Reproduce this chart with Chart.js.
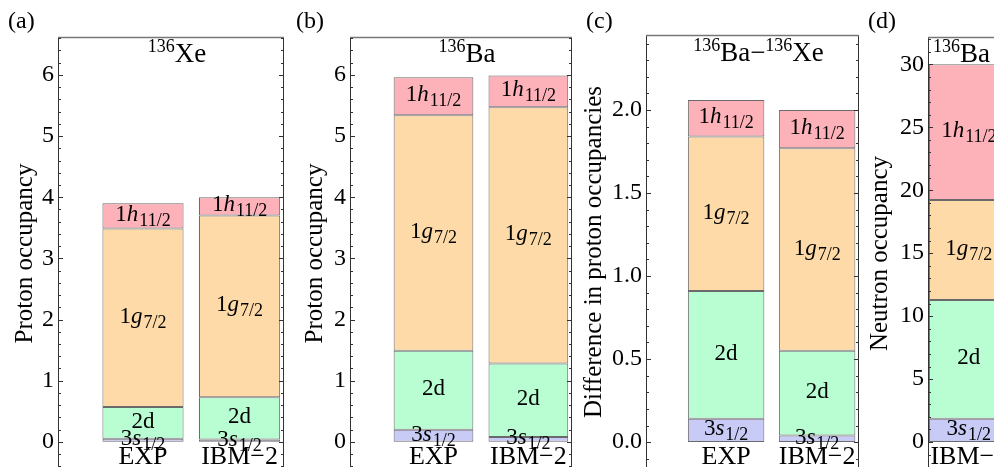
<!DOCTYPE html>
<html>
<head>
<meta charset="utf-8">
<script src="https://cdn.jsdelivr.net/npm/chart.js@4.4.0/dist/chart.umd.min.js"></script>
<style>
  html, body { margin: 0; padding: 0; overflow: hidden; background: #fff; }
  #wrap { position: relative; width: 994px; height: 467px; overflow: hidden; }
  canvas { position: absolute; top: 0; }
</style>
</head>
<body>
<div id="wrap">
  <canvas id="panelA" width="290" height="500" style="left:0px"></canvas>
  <canvas id="panelB" width="286" height="500" style="left:290px"></canvas>
  <canvas id="panelC" width="292" height="500" style="left:572px"></canvas>
  <canvas id="panelD" width="270" height="500" style="left:858px"></canvas>
</div>
<script>
const categories = ['EXP', 'IBM−2'];
const neutronCategories = ['IBM−2'];
const barSlots = [1, 2];

// orbitals, from the bottom of each stack to the top
const orbitalNums = ['3', '2', '1', '1'];
const orbitalLetters = ['s', 'd', 'g', 'h'];
const orbitalItalic = [true, false, true, true];
const orbitalSubs = ['1/2', '', '7/2', '11/2'];
const orbitalColors = ['#c7cbf5', '#b9fdd2', '#fedaa8', '#fdb1b9'];

// 136Xe proton occupancy
const xeExp = [0.05, 0.52, 2.92, 0.41];
const xeIbm = [0.04, 0.69, 2.97, 0.30];
// 136Ba proton occupancy
const baExp = [0.20, 1.29, 3.85, 0.62];
const baIbm = [0.08, 1.20, 4.19, 0.52];
// 136Ba - 136Xe
const diffExp = [0.14, 0.77, 0.93, 0.22];
const diffIbm = [0.04, 0.51, 1.22, 0.23];
// 136Ba neutron occupancy
const baNeutronIbm = [1.85, 9.43, 7.94, 10.78];

const protonTicks = [0, 1, 2, 3, 4, 5, 6];
const diffTicks = [0, 0.5, 1, 1.5, 2];
const neutronTicks = [0, 5, 10, 15, 20, 25, 30];

const titleXe = [['136', true], ['Xe', false]];
const titleBa = [['136', true], ['Ba', false]];
const titleDiff = [['136', true], ['Ba−', false], ['136', true], ['Xe', false]];

const SERIF = '"Liberation Serif", "Times New Roman", serif';

function drawOrbital(ctx, i, cx, by) {
  const main = '23px ' + SERIF;
  const letter = (orbitalItalic[i] ? 'italic ' : '') + '23px ' + SERIF;
  const sub = '18px ' + SERIF;
  ctx.font = main;
  const w1 = ctx.measureText(orbitalNums[i]).width;
  ctx.font = letter;
  const w2 = ctx.measureText(orbitalLetters[i]).width;
  ctx.font = sub;
  const w3 = orbitalSubs[i] ? ctx.measureText(orbitalSubs[i]).width + 1 : 0;
  let x = cx - (w1 + w2 + w3) / 2;
  ctx.textAlign = 'left';
  ctx.font = main;
  ctx.fillText(orbitalNums[i], x, by);
  x += w1;
  ctx.font = letter;
  ctx.fillText(orbitalLetters[i], x, by);
  x += w2 + 1;
  if (orbitalSubs[i]) {
    ctx.font = sub;
    ctx.fillText(orbitalSubs[i], x, by + 5);
  }
}

function drawTitle(ctx, parts, x, by, align) {
  const fontOf = p => (p[1] ? '18px ' : '27px ') + SERIF;
  const widths = parts.map(p => {
    ctx.font = fontOf(p);
    return ctx.measureText(p[0]).width;
  });
  const total = widths.reduce((a, b) => a + b, 0);
  let px = align === 'left' ? x : x - total / 2;
  ctx.textAlign = 'left';
  parts.forEach((p, k) => {
    ctx.font = fontOf(p);
    ctx.fillText(p[0], px, p[1] ? by - 10 : by);
    px += widths[k];
  });
}

const decoPlugin = {
  id: 'deco',
  afterDatasetsDraw(chart, args, opts) {
    const ctx = chart.ctx;
    const {left, right, top, bottom} = chart.chartArea;
    const xs = chart.scales.x, ys = chart.scales.y;
    ctx.save();
    ctx.fillStyle = '#000';
    ctx.textBaseline = 'alphabetic';

    // labels inside the stacked segments
    chart.data.datasets.forEach((ds, i) => {
      chart.getDatasetMeta(i).data.forEach(bar => {
        drawOrbital(ctx, i, bar.x, (bar.y + bar.base) / 2 + 5);
      });
    });

    // category names under the bars
    ctx.font = '26px ' + SERIF;
    ctx.textAlign = 'center';
    opts.cats.forEach((c, j) => {
      ctx.fillText(c, xs.getPixelForValue(barSlots[j]), ys.getPixelForValue(0) + 22);
    });

    // frame
    ctx.lineWidth = 1;
    ctx.strokeStyle = '#333';
    ctx.beginPath();
    ctx.moveTo(left + 0.5, top); ctx.lineTo(left + 0.5, bottom);
    ctx.moveTo(right - 0.5, top); ctx.lineTo(right - 0.5, bottom);
    ctx.moveTo(left, bottom - 0.5); ctx.lineTo(right, bottom - 0.5);
    ctx.stroke();
    ctx.strokeStyle = '#777';
    ctx.lineWidth = 1.5;
    ctx.beginPath();
    ctx.moveTo(left, top + 0.5); ctx.lineTo(right, top + 0.5);
    ctx.stroke();

    // inward ticks on both sides
    ctx.strokeStyle = '#333';
    ctx.lineWidth = 1;
    ctx.beginPath();
    const tick = (v, len) => {
      const y = Math.round(ys.getPixelForValue(v)) + 0.5;
      ctx.moveTo(left, y); ctx.lineTo(left + len, y);
      ctx.moveTo(right, y); ctx.lineTo(right - len, y);
    };
    const step = opts.minorStep;
    for (let k = Math.ceil(ys.min / step); k * step <= ys.max; k++) tick(k * step, 3);
    opts.yTicks.forEach(v => tick(v, 5));
    ctx.stroke();

    // panel title and letter
    if (opts.titleAlign === 'left') {
      drawTitle(ctx, opts.title, left + 5, top + 25, 'left');
    } else {
      drawTitle(ctx, opts.title, (left + right) / 2 + 6, top + opts.titleDy, 'center');
    }
    ctx.font = '24px ' + SERIF;
    ctx.textAlign = 'left';
    ctx.fillText(opts.letter, opts.letterX, 28);
    ctx.restore();
  }
};

function makePanel(id, cfg) {
  const datasets = orbitalNums.map((n, i) => ({
    label: n + orbitalLetters[i] + orbitalSubs[i],
    data: cfg.series.map((s, j) => ({x: barSlots[j], y: s[i]})),
    backgroundColor: orbitalColors[i],
    borderColor: '#6a6a6a',
    borderWidth: 1,
    borderSkipped: false,
    barPercentage: 0.84,
    categoryPercentage: 1
  }));

  new Chart(document.getElementById(id).getContext('2d'), {
    type: 'bar',
    data: { datasets: datasets },
    options: {
      responsive: false,
      animation: false,
      layout: { padding: { left: 0, right: cfg.padRight, top: cfg.padTop, bottom: cfg.padBottom } },
      scales: {
        x: {
          type: 'linear',
          display: false,
          stacked: true,
          offset: false,
          min: cfg.xMin,
          max: cfg.xMax,
          afterBuildTicks: s => { s.ticks = barSlots.map(v => ({value: v})); }
        },
        y: {
          stacked: true,
          min: cfg.yMin,
          max: cfg.yMax,
          afterBuildTicks: s => { s.ticks = cfg.yTicks.map(v => ({value: v})); },
          afterFit: s => { s.width = cfg.axisWidth; },
          grid: { display: false, drawTicks: false },
          border: { display: false },
          ticks: {
            autoSkip: false,
            padding: 4,
            color: '#000',
            font: { family: SERIF, size: 24 },
            callback: cfg.fmt
          },
          title: {
            display: true,
            text: cfg.yTitle,
            color: '#000',
            font: { family: SERIF, size: 25 },
            padding: { top: cfg.titlePad, bottom: 0 }
          }
        }
      },
      plugins: {
        legend: { display: false },
        tooltip: { enabled: false },
        deco: {
          cats: cfg.cats,
          yTicks: cfg.yTicks,
          minorStep: cfg.minorStep,
          title: cfg.title,
          titleAlign: cfg.titleAlign,
          titleDy: cfg.titleDy,
          letter: cfg.letter,
          letterX: cfg.letterX
        }
      }
    },
    plugins: [decoPlugin]
  });
}

makePanel('panelA', {
  series: [xeExp, xeIbm], cats: categories,
  xMin: 0.12, xMax: 2.46, yMin: -0.46, yMax: 6.62,
  yTicks: protonTicks, minorStep: 0.2, fmt: v => String(v),
  yTitle: 'Proton occupancy', titlePad: 10,
  axisWidth: 58, padTop: 37, padRight: 6, padBottom: 30,
  title: titleXe, titleAlign: 'center', titleDy: 25,
  letter: '(a)', letterX: 8
});

makePanel('panelB', {
  series: [baExp, baIbm], cats: categories,
  xMin: 0.12, xMax: 2.46, yMin: -0.46, yMax: 6.62,
  yTicks: protonTicks, minorStep: 0.2, fmt: v => String(v),
  yTitle: 'Proton occupancy', titlePad: 10,
  axisWidth: 60, padTop: 37, padRight: 4, padBottom: 30,
  title: titleBa, titleAlign: 'center', titleDy: 25,
  letter: '(b)', letterX: 6
});

makePanel('panelC', {
  series: [diffExp, diffIbm], cats: categories,
  xMin: 0.12, xMax: 2.46, yMin: -0.162, yMax: 2.452,
  yTicks: diffTicks, minorStep: 0.1, fmt: v => v.toFixed(1),
  yTitle: 'Difference in proton occupancies', titlePad: 7,
  axisWidth: 74, padTop: 35, padRight: 5, padBottom: 31,
  title: titleDiff, titleAlign: 'center', titleDy: 26,
  letter: '(c)', letterX: 14
});

makePanel('panelD', {
  series: [baNeutronIbm], cats: neutronCategories,
  xMin: 0.57, xMax: 1.94, yMin: -2.22, yMax: 32.17,
  yTicks: neutronTicks, minorStep: 1, fmt: v => String(v),
  yTitle: 'Neutron occupancy', titlePad: 7,
  axisWidth: 70, padTop: 37, padRight: 70, padBottom: 30,
  title: titleBa, titleAlign: 'left', titleDy: 25,
  letter: '(d)', letterX: 10
});
</script>
</body>
</html>
